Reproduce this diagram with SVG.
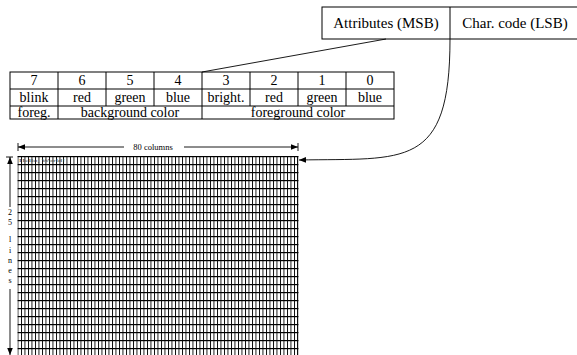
<svg xmlns="http://www.w3.org/2000/svg" width="577" height="355" viewBox="0 0 577 355">
<style>
.t{font-family:"Liberation Serif",serif;font-size:14px;text-anchor:middle;fill:#000}
.b{font-family:"Liberation Serif",serif;font-size:15px;text-anchor:middle;fill:#000}
.s{font-family:"Liberation Serif",serif;font-size:8.5px;text-anchor:middle;fill:#000}
.v{font-family:"Liberation Serif",serif;font-size:8px;text-anchor:middle;fill:#000}
.h{font-family:"Liberation Serif",serif;font-size:4.5px;fill:#444}
.ln{fill:none;stroke:#000;stroke-width:0.9}
.tb{fill:none;stroke:#000;stroke-width:1}
</style>
<defs>
<marker id="ah" viewBox="0 0 10 10" refX="10" refY="5" markerWidth="7" markerHeight="7" orient="auto-start-reverse" markerUnits="userSpaceOnUse">
<path d="M0,1 L10,5 L0,9 Z" fill="#000"/>
</marker>
<pattern id="cells" x="17.5" y="156" width="3.5" height="8" patternUnits="userSpaceOnUse">
<rect x="0" y="0" width="0.9" height="8" fill="#000"/>
<rect x="0" y="0" width="3.5" height="1.2" fill="#000"/>
</pattern>
</defs>
<g id="word">
<rect x="322" y="7" width="300" height="32" class="tb"/>
<line x1="450" y1="7" x2="450" y2="39" class="tb"/>
<text x="386" y="28" class="b">Attributes (MSB)</text>
<text x="515" y="28" class="b">Char. code (LSB)</text>
</g>
<g id="table">
<rect x="10" y="72" width="384" height="47" class="tb"/>
<line x1="10" y1="89" x2="394" y2="89" class="tb"/>
<line x1="10" y1="106" x2="394" y2="106" class="tb"/>
<path class="tb" d="M58,72V119 M106,72V106 M154,72V106 M202,72V119 M250,72V106 M298,72V106 M346,72V106"/>
<text x="34" y="85" class="t">7</text>
<text x="82" y="85" class="t">6</text>
<text x="130" y="85" class="t">5</text>
<text x="178" y="85" class="t">4</text>
<text x="226" y="85" class="t">3</text>
<text x="274" y="85" class="t">2</text>
<text x="322" y="85" class="t">1</text>
<text x="370" y="85" class="t">0</text>
<text x="34" y="102" class="t">blink</text>
<text x="82" y="102" class="t">red</text>
<text x="130" y="102" class="t">green</text>
<text x="178" y="102" class="t">blue</text>
<text x="226" y="102" class="t">bright.</text>
<text x="274" y="102" class="t">red</text>
<text x="322" y="102" class="t">green</text>
<text x="370" y="102" class="t">blue</text>
<text x="34" y="117" class="t">foreg.</text>
<text x="130" y="117" class="t">background color</text>
<text x="298" y="117" class="t">foreground color</text>
</g>
<g id="screen">
<rect x="17.5" y="156" width="281" height="200" fill="url(#cells)"/>
<line x1="297.5" y1="156" x2="297.5" y2="355" stroke="#000" stroke-width="0.9"/>
<text x="19" y="162" class="h" textLength="46" lengthAdjust="spacingAndGlyphs">Hello, World!</text>
</g>
<g id="dimensions">
<line x1="18" y1="143" x2="18" y2="151" class="ln"/>
<line x1="298" y1="143" x2="298" y2="151" class="ln"/>
<line x1="124" y1="147" x2="18" y2="147" class="ln" marker-end="url(#ah)"/>
<line x1="184" y1="147" x2="298" y2="147" class="ln" marker-end="url(#ah)"/>
<text x="153" y="150" class="s">80 columns</text>
<line x1="6" y1="157" x2="13" y2="157" class="ln"/>
<line x1="10" y1="207" x2="10" y2="157" class="ln" marker-end="url(#ah)"/>
<line x1="10" y1="289" x2="10" y2="355" class="ln" marker-end="url(#ah)"/>
<text x="10" y="215" class="v">2</text>
<text x="10" y="225" class="v">5</text>
<text x="10" y="242" class="v">l</text>
<text x="10" y="253" class="v">i</text>
<text x="10" y="263" class="v">n</text>
<text x="10" y="273" class="v">e</text>
<text x="10" y="283" class="v">s</text>
</g>
<g id="connectors">
<line x1="386" y1="39" x2="202" y2="72" class="ln"/>
<path d="M450,39 C450,170 405,158 299,160" class="ln" marker-end="url(#ah)"/>
</g>
</svg>
